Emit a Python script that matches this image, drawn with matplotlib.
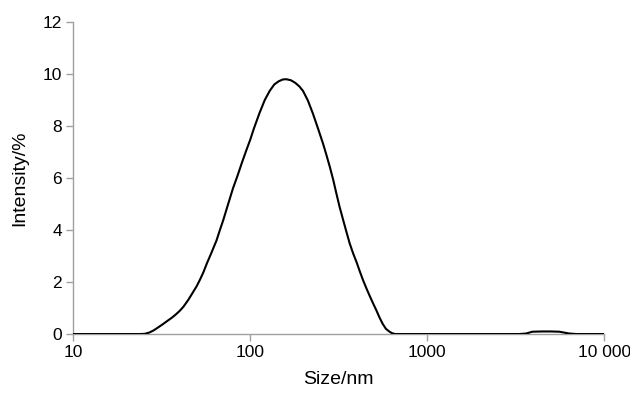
import matplotlib
matplotlib.use("Agg")
import matplotlib.pyplot as plt
import numpy as np

# size distribution (size in nm, intensity in %)
size_nm = [10, 15, 20, 24, 25.5, 27, 28.5, 30, 32, 34, 36, 38, 40, 42, 44.7, 47,
           50, 52, 54.5, 57, 60, 64.6, 67.5, 70.5, 75, 80, 85, 90, 95, 100, 105,
           113, 121, 129, 137, 145, 153, 160, 170, 180, 190, 199, 212, 226, 242,
           258, 270, 282, 295, 307, 320, 335, 350, 365, 382, 400, 417, 434, 455,
           475, 495, 516, 538, 560, 585, 613, 635, 660, 700, 1000, 2000, 3300,
           3620, 3930, 4500, 5000, 5590, 6350, 7000, 10000]
intensity = [0, 0, 0, 0, 0.01, 0.06, 0.14, 0.24, 0.37, 0.5, 0.62, 0.75, 0.89, 1.05,
             1.31, 1.55, 1.85, 2.08, 2.38, 2.72, 3.07, 3.6, 4.0, 4.38, 4.98, 5.6,
             6.1, 6.6, 7.05, 7.46, 7.9, 8.5, 9.0, 9.35, 9.6, 9.72, 9.79, 9.8, 9.76,
             9.66, 9.52, 9.35, 8.98, 8.49, 7.9, 7.33, 6.88, 6.43, 5.92, 5.41, 4.9,
             4.4, 3.93, 3.49, 3.1, 2.75, 2.4, 2.08, 1.74, 1.45, 1.18, 0.92, 0.64,
             0.4, 0.2, 0.09, 0.03, 0, 0, 0, 0, 0, 0.02, 0.09, 0.1, 0.1, 0.09, 0.02,
             0, 0]

x_ticks = [10, 100, 1000, 10000]
x_tick_labels = ["10", "100", "1000", "10 000"]
y_ticks = [0, 2, 4, 6, 8, 10, 12]

plt.rcParams['font.family'] = ['Liberation Sans', 'DejaVu Sans']

fig = plt.figure(figsize=(6.3, 3.93), dpi=100)
ax = fig.add_axes([0.116, 0.150, 0.843, 0.794])

ax.plot(size_nm, intensity, color='black', linewidth=1.5, zorder=3)

ax.set_xscale('log')
ax.set_xlim(10, 10000)
ax.set_ylim(0, 12)
ax.set_xticks(x_ticks)
ax.set_xticklabels(x_tick_labels)
ax.xaxis.set_minor_locator(matplotlib.ticker.NullLocator())
ax.set_yticks(y_ticks)

for side in ['top', 'right']:
    ax.spines[side].set_visible(False)
for side in ['left', 'bottom']:
    ax.spines[side].set_color('#a0a0a0')
    ax.spines[side].set_linewidth(1.0)

ax.tick_params(axis='both', direction='out', length=5, width=1.0,
               color='#a0a0a0', labelsize=12.5, labelcolor='black', pad=3)

ax.set_xlabel('Size/nm', fontsize=14, labelpad=8)
ax.set_ylabel('Intensity/%', fontsize=14, labelpad=10)

fig.savefig('out.png', dpi=100)
